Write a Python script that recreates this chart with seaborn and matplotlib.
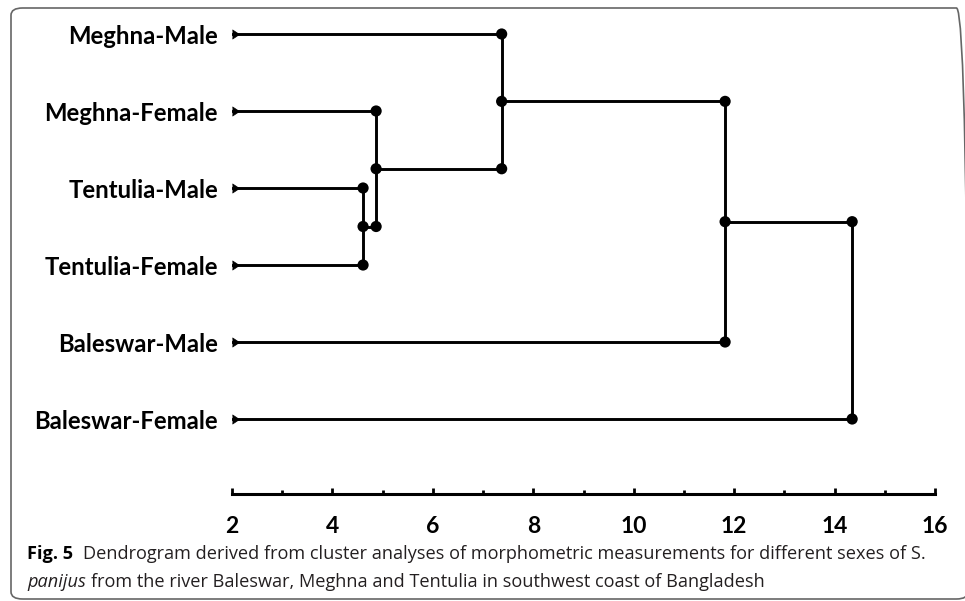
import matplotlib
matplotlib.use("Agg")
import matplotlib.pyplot as plt
from matplotlib.patches import FancyBboxPatch
from matplotlib.ticker import MultipleLocator
import pandas as pd
import seaborn as sns

# Leaves from top to bottom, and merges as (child, child) with their distances
leaves = ["Meghna-Male", "Meghna-Female", "Tentulia-Male",
          "Tentulia-Female", "Baleswar-Male", "Baleswar-Female"]
merges = [(2, 3), (1, 6), (0, 7), (8, 4), (9, 5)]
heights = [4.61, 4.87, 7.37, 11.82, 14.35]
x_ticks = [2, 4, 6, 8, 10, 12, 14, 16]
base = 2

caption_1 = [("Fig. 5", "bold"),
             ("Dendrogram derived from cluster analyses of morphometric "
              "measurements for different sexes of S.", "normal")]
caption_2 = [("panijus", "italic"),
             ("from the river Baleswar, Meghna and Tentulia in southwest "
              "coast of Bangladesh", "normal")]


def build_tree():
    pos = {i: float(i) for i in range(len(leaves))}
    xs = {i: base for i in range(len(leaves))}
    segs, nodes, caps = [], [], []
    for k, ((a, b), h) in enumerate(zip(merges, heights)):
        new = len(leaves) + k
        for c in (a, b):
            segs.append({"seg": f"h{k}{c}", "x": xs[c], "y": pos[c]})
            segs.append({"seg": f"h{k}{c}", "x": h, "y": pos[c]})
            nodes.append({"x": h, "y": pos[c]})
            if c < len(leaves):
                caps.append({"x": base, "y": pos[c]})
        segs.append({"seg": f"v{k}", "x": h, "y": pos[a]})
        segs.append({"seg": f"v{k}", "x": h, "y": pos[b]})
        pos[new] = (pos[a] + pos[b]) / 2
        xs[new] = h
        # the root gets no midpoint marker
        if k < len(merges) - 1:
            nodes.append({"x": h, "y": pos[new]})
    return pd.DataFrame(segs), pd.DataFrame(nodes), pd.DataFrame(caps)


def draw_runs(fig, renderer, runs, x_px, y_px, size, family):
    W, H = fig.bbox.width, fig.bbox.height
    probe_a = fig.text(0, 0, "xx", fontsize=size, family=family)
    probe_b = fig.text(0, 0, "x x", fontsize=size, family=family)
    gap = (probe_b.get_window_extent(renderer).width
           - probe_a.get_window_extent(renderer).width)
    probe_a.remove()
    probe_b.remove()
    x = x_px
    for txt, style in runs:
        kw = {"fontsize": size, "family": family, "color": "#231f20", "va": "center"}
        if style == "bold":
            kw["fontweight"] = "bold"
            kw["color"] = "black"
        elif style == "italic":
            kw["fontstyle"] = "italic"
        t = fig.text(x / W, 1 - y_px / H, txt, **kw)
        x += t.get_window_extent(renderer).width + gap * (2 if style == "bold" else 1)


sns.set_theme(style="white")
plt.rcParams["font.family"] = ["Lato", "DejaVu Sans"]

seg_df, node_df, cap_df = build_tree()

fig = plt.figure(figsize=(9.65, 6.01), dpi=100)
ax = fig.add_axes([232 / 965, 1 - 494 / 601, (935 - 232) / 965, (494 - 10.9) / 601])

sns.lineplot(data=seg_df, x="x", y="y", units="seg", estimator=None, sort=False,
             color="black", linewidth=2.1, ax=ax, legend=False)
sns.scatterplot(data=node_df, x="x", y="y", marker="o", s=65, color="black",
                edgecolor="none", ax=ax, legend=False, zorder=3)
sns.scatterplot(data=cap_df, x="x", y="y", marker=9, s=45, color="black",
                edgecolor="none", ax=ax, legend=False, zorder=3)

ax.set_xlim(x_ticks[0], x_ticks[-1])
ax.set_ylim(5.974, -0.3)
ax.set_xticks(x_ticks)
ax.xaxis.set_minor_locator(MultipleLocator(1))
ax.set_yticks(range(len(leaves)))
ax.set_yticklabels(leaves, fontsize=17.2, fontweight="bold", color="black")
ax.set_xticklabels([str(t) for t in x_ticks], fontsize=16.5, fontweight="bold", color="black")
ax.tick_params(axis="x", which="major", direction="in", length=4, width=2,
               color="black", pad=16, bottom=True)
ax.tick_params(axis="x", which="minor", direction="in", length=3, width=2,
               color="black", bottom=True)
ax.tick_params(axis="y", length=0, pad=10)
ax.set_xlabel("")
ax.set_ylabel("")
for side in ("top", "left", "right"):
    ax.spines[side].set_visible(False)
ax.spines["bottom"].set_color("black")
ax.spines["bottom"].set_linewidth(2.2)
ax.patch.set_alpha(0)

# rounded frame around the figure panel
W, H = 965, 601
frame = FancyBboxPatch((11 / W, 1 - 599 / H), (968 - 11) / W, (599 - 8) / H,
                       boxstyle="round,pad=0,rounding_size=0.012",
                       transform=fig.transFigure, fill=False,
                       edgecolor="#666666", linewidth=1.2)
fig.patches.append(frame)

renderer = fig.canvas.get_renderer()
draw_runs(fig, renderer, caption_1, 27, 554, 13.1, ["Open Sans", "DejaVu Sans"])
draw_runs(fig, renderer, caption_2, 27, 582, 13.1, ["Open Sans", "DejaVu Sans"])

fig.savefig("out.png", dpi=100)
